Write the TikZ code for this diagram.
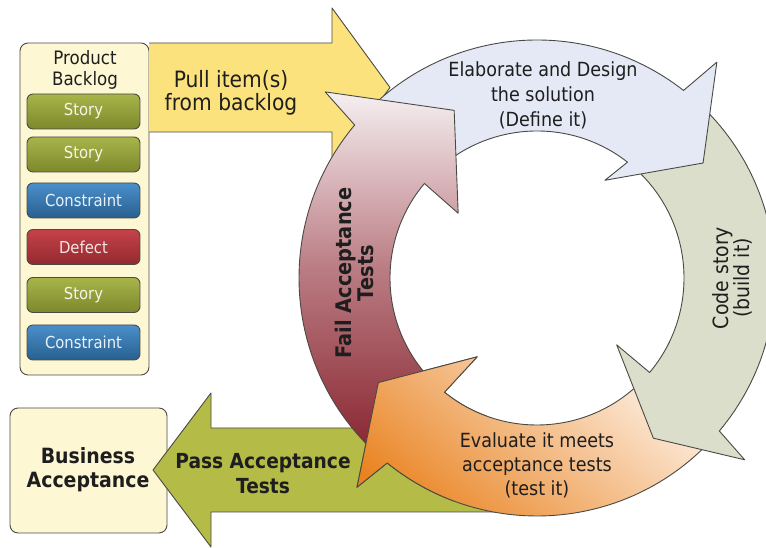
\documentclass[tikz,border=0pt]{standalone}
\usepackage{fontspec}
\newfontfamily\vf{DejaVu Sans}[FakeStretch=0.9]
\definecolor{edge}{HTML}{4A4A44}
\definecolor{txt}{HTML}{1E1E1E}
\definecolor{cream}{HTML}{FEF7D4}
\definecolor{yel}{HTML}{FCE27C}
\definecolor{olv}{HTML}{B4BB47}
\definecolor{bluearr}{HTML}{E5E9F6}
\definecolor{greenarr}{HTML}{DBDECA}
\definecolor{redtop}{HTML}{F6EFF1}
\definecolor{redmid}{HTML}{BA7C83}
\definecolor{redbot}{HTML}{8A2832}
\definecolor{orlight}{HTML}{FDEEE0}
\definecolor{ordark}{HTML}{E9821F}
\definecolor{stt}{HTML}{A8B54A}
\definecolor{stb}{HTML}{7C882B}
\definecolor{cot}{HTML}{4B8FCB}
\definecolor{cob}{HTML}{28608F}
\definecolor{det}{HTML}{C6424A}
\definecolor{deb}{HTML}{922A2F}
\newcommand\fs[2]{\fontsize{#1}{#2}\selectfont}
% #1 style, #2 tail angle, #3 base angle, #4 outer barb, #5 tip, #6 inner barb
\newcommand\ringarrow[6]{%
  \path[#1] (#2:238pt) arc[start angle=#2, end angle=#3, radius=238pt]
    -- (#4) -- (#5) -- (#6) -- (#3:147pt)
    arc[start angle=#3, end angle=#2, radius=147pt] -- cycle;}
\begin{document}
\begin{tikzpicture}[x=1pt,y=1pt,
  outl/.style={draw=edge, line width=0.9pt, line join=round},
  item/.style={outl, rounded corners=6pt, minimum width=113pt, minimum height=35pt,
    inner sep=0pt, font=\vf\fs{16.5}{18}},
  story/.style={item, top color=stt, bottom color=stb, text=white!88!stt},
  constraint/.style={item, top color=cot, bottom color=cob, text=white!88!cot},
  defect/.style={item, top color=det, bottom color=deb, text=white!85!det},
  lbl/.style={inner sep=0pt, align=center, text=txt},
  redarr/.style={outl, top color=redtop, bottom color=redbot, middle color=redmid},
  orarr/.style={outl, top color=orlight, bottom color=ordark, shading angle=-40},
  bluestyle/.style={outl, fill=bluearr},
  greenstyle/.style={outl, fill=greenarr}]
\clip (0,0) rectangle (766,548);
\fill[white] (0,0) rectangle (766,548);

% business acceptance box
\node[outl, fill=cream, rounded corners=8pt, minimum width=157pt, minimum height=125pt,
  inner sep=0pt] (biz) at (88.5,77.5) {};
% pass arrow
\draw[outl, fill=olv] (500,120) -- (211,120) -- (211,155) -- (153,78)
  -- (211,1) -- (211,36) -- (500,36) -- cycle;

% backlog panel
\node[outl, fill=cream, rounded corners=8pt, minimum width=129pt, minimum height=332pt,
  inner sep=0pt] (panel) at (84.5,339) {};
% pull arrow
\draw[outl, fill=yel] (149,505) -- (332,505) -- (332,540) -- (390,460.5)
  -- (332,381) -- (332,416) -- (149,416);

% ring
\begin{scope}[shift={(537,270)}]
  \coordinate (C) at (0,0);
  \ringarrow{orarr}{-44}{-129}{-130.7:276pt}{-146.6:190pt}{-127.2:99pt}
  \ringarrow{greenstyle}{48}{-40}{-41.2:276pt}{-54:198pt}{-40:104pt}
  \ringarrow{bluestyle}{140}{52}{50.2:281pt}{34.7:202pt}{55.2:119pt}
  \ringarrow{redarr}{225}{140}{138.7:282pt}{116.3:187pt}{140.6:102pt}
  \begin{scope}
    \clip (0,0) -- (190:330pt) -- (250:330pt) -- cycle;
    \ringarrow{orarr}{-44}{-129}{-130.7:276pt}{-146.6:190pt}{-127.2:99pt}
  \end{scope}
\end{scope}

% backlog items
\node[lbl, font=\vf\fs{18.5}{21}] (pb) at (85,478.5) {Product\\Backlog};
\node[story] (s1) at (83.5,436.5) {Story};
\node[story] (s2) at (83.5,393.5) {Story};
\node[constraint] (c1) at (83.5,347.5) {Constraint};
\node[defect] (d1) at (83.5,301) {Defect};
\node[story] (s3) at (83.5,253) {Story};
\node[constraint] (c2) at (83.5,205.5) {Constraint};

% labels
\node[lbl, font=\vf\fs{22.5}{23}] (pull) at (231,455.6) {Pull item(s)\\from backlog};
\node[lbl, font=\vf\fs{19.5}{25}] (elab) at (543,452.3) {Elaborate and Design\\the solution\\(Define it)};
\node[lbl, font=\vf\fs{21}{21}, rotate=90] (code) at (732.5,270) {Code story\\(build it)};
\node[lbl, font=\vf\fs{19.5}{24}] (eval) at (537,82.8) {Evaluate it meets\\acceptance tests\\(test it)};
\node[lbl, font=\vf\bfseries\fs{21.5}{22}, rotate=90] (fail) at (354,275) {Fail Acceptance\\Tests};
\node[lbl, font=\vf\bfseries\fs{21}{24}] (bizt) at (88,78.7) {Business\\Acceptance};
\node[lbl, font=\vf\bfseries\fs{20.7}{25}] (pass) at (263,74) {Pass Acceptance\\Tests};
\end{tikzpicture}
\end{document}
